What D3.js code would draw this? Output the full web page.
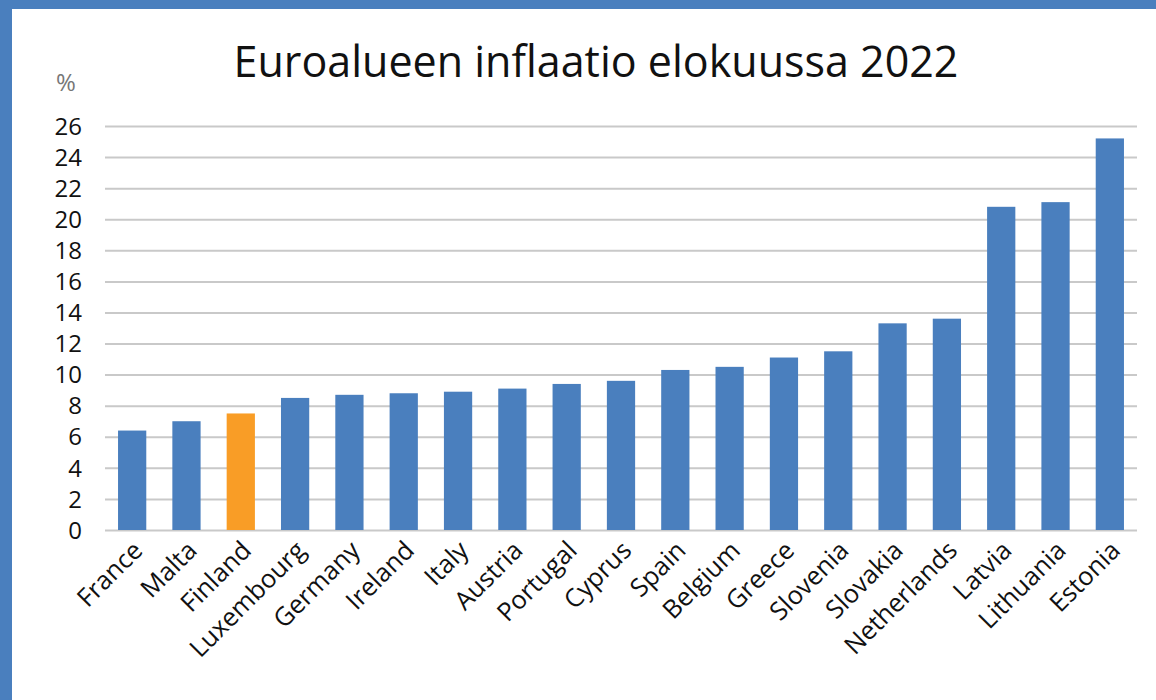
<!DOCTYPE html>
<html>
<head>
<meta charset="utf-8">
<script src="https://cdn.jsdelivr.net/npm/d3@7"></script>
<style>
  html,body{margin:0;padding:0;background:#fff;}
  svg{display:block;}
</style>
</head>
<body>
<svg width="1156" height="700"></svg>
<script>
// inflation, August 2022 (%)
const countries=["France","Malta","Finland","Luxembourg","Germany","Ireland","Italy","Austria","Portugal","Cyprus","Spain","Belgium","Greece","Slovenia","Slovakia","Netherlands","Latvia","Lithuania","Estonia"]
const inflation=[6.4,7.0,7.5,8.5,8.7,8.8,8.9,9.1,9.4,9.6,10.3,10.5,11.1,11.5,13.3,13.6,20.8,21.1,25.2]
const yTicks=[0,2,4,6,8,10,12,14,16,18,20,22,24,26]
const highlight="Finland"
const FONT='"Open Sans","Noto Sans",sans-serif'

function drawChart(){
    const svg=d3.select("svg")
    const W=1156,H=700

    // frame, blue on top and left like the original slide
    svg.append("rect").attr("x",0).attr("y",0).attr("width",W).attr("height",9).attr("fill","#4a7fbe")
    svg.append("rect").attr("x",0).attr("y",0).attr("width",12).attr("height",H).attr("fill","#4a7fbe")

    const margin={top:126,left:105,right:19,bottom:170}
    const width=W-margin.left-margin.right,
          height=H-margin.top-margin.bottom
    const g=svg.append("g").attr("transform",`translate(${margin.left},${margin.top})`)

    const x=d3.scaleBand().domain(countries).range([0,width]).paddingInner(0.48).paddingOuter(0.24)
    const y=d3.scaleLinear().domain([0,26]).range([height,0])

    // grid
    g.append("g")
     .call(d3.axisLeft(y).tickValues(yTicks).tickSize(-width).tickFormat(""))
     .call(a=>a.select(".domain").remove())
     .selectAll("line").attr("stroke","#c9c9c9").attr("stroke-width",2)

    // y labels
    g.append("g")
     .attr("transform","translate(-23,0)")
     .call(d3.axisLeft(y).tickValues(yTicks).tickSize(0).tickPadding(0))
     .attr("font-family",FONT).attr("font-size",24)
     .call(a=>a.select(".domain").remove())
     .selectAll("text").attr("fill","#111").attr("dy","0.34em")

    g.selectAll(".bar")
     .data(countries)
     .enter().append("rect")
     .attr("class","bar")
     .attr("x",d=>x(d))
     .attr("y",(d,i)=>y(inflation[i]))
     .attr("width",x.bandwidth())
     .attr("height",(d,i)=>height-y(inflation[i]))
     .attr("fill",d=>d==highlight?"#f99d26":"#4a7fbe")

    // x labels, rotated
    g.append("g")
     .attr("transform",`translate(0,${height})`)
     .call(d3.axisBottom(x).tickSize(0).tickPadding(0))
     .attr("font-family",FONT).attr("font-size",25.5)
     .call(a=>a.select(".domain").remove())
     .selectAll("text")
     .attr("fill","#111")
     .attr("text-anchor","end")
     .attr("dy",null).attr("y",0)
     .attr("transform","translate(12,22) rotate(-45)")

    svg.append("text").attr("x",66).attr("y",91).attr("text-anchor","middle")
       .attr("font-family",FONT).attr("font-size",24).attr("fill","#777").text("%")

    svg.append("text").attr("x",596).attr("y",77).attr("text-anchor","middle")
       .attr("font-family",FONT).attr("font-size",43).attr("fill","#111").text("Euroalueen inflaatio elokuussa 2022")
    return
}

drawChart()
</script>
</body>
</html>
